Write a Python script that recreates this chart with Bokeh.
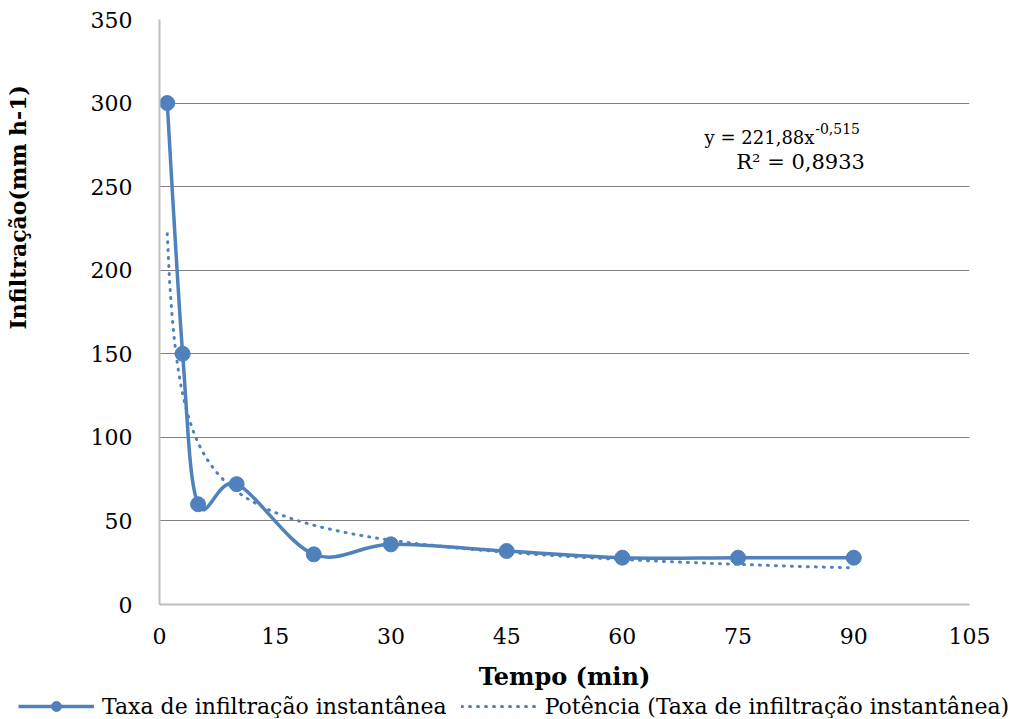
from bokeh.plotting import figure
from bokeh.layouts import column
from bokeh.models import Range1d, FixedTicker, Legend, LegendItem, Label, ColumnDataSource, Title
from bokeh.embed import file_html
from bokeh.resources import INLINE
import numpy as np

# ---- data ----
tempo = [1, 3, 5, 10, 20, 30, 45, 60, 75, 90]
taxa = [300, 150, 60, 72, 30, 36, 32, 28, 28, 28]
coef_a = 221.88
coef_b = -0.515
x_ticks = [0, 15, 30, 45, 60, 75, 90, 105]
y_ticks = [0, 50, 100, 150, 200, 250, 300, 350]
serie_nome = "Taxa de infiltração instantânea"
trend_nome = "Potência (Taxa de infiltração instantânea)"
eq_txt = "y = 221,88x"
eq_exp = "-0,515"
r2_txt = "R² = 0,8933"
y_title = "Infiltração(mm h-1)"
x_title = "Tempo (min)"

BLUE = "#4F81BD"
FONT = "DejaVu Serif"

p = figure(width=1011, height=693, output_backend="svg", toolbar_location=None,
           x_range=Range1d(0, 105), y_range=Range1d(0, 350),
           min_border_left=159, min_border_right=42, min_border_top=19, min_border_bottom=89)
p.outline_line_color = None
p.background_fill_color = "white"
p.border_fill_color = "white"

p.xgrid.visible = False
p.ygrid.grid_line_color = "#808080"
p.ygrid.grid_line_width = 1
p.ygrid.ticker = FixedTicker(ticks=y_ticks[1:])

for ax, ticks in ((p.xaxis[0], x_ticks), (p.yaxis[0], y_ticks)):
    ax.ticker = FixedTicker(ticks=ticks)
    ax.major_tick_line_color = None
    ax.minor_tick_line_color = None
    ax.axis_line_color = "#BFBFBF"
    ax.axis_line_width = 2
    ax.major_label_text_font = FONT
    ax.major_label_text_font_size = "22px"
    ax.major_label_text_color = "black"
    ax.axis_label_text_font = FONT
    ax.axis_label_text_font_style = "bold"
    ax.axis_label_text_color = "black"

p.xaxis.axis_label = x_title
p.xaxis.axis_label_text_font_size = "24px"
p.xaxis.major_label_standoff = 17
p.xaxis.axis_label_standoff = 15
p.yaxis.major_label_standoff = 21
# blank axis label used only as spacing so the title below sits at the far left
p.yaxis.axis_label = " "
p.yaxis.axis_label_standoff = 28
p.yaxis.axis_label_text_font_size = "22px"

# y-axis title (Title in the left panel, shifted upward like the original)
p.add_layout(Title(text=y_title, align="left", offset=275, standoff=0,
                   text_font=FONT, text_font_style="bold", text_font_size="22px",
                   text_color="black"), "left")

# ---- trend line (power fit shown on chart) ----
xt = np.linspace(tempo[0], tempo[-1], 300)
yt = coef_a * xt ** coef_b
p.line(xt, yt, line_color=BLUE, line_width=3, line_dash="1 7", line_cap="round")

# ---- smoothed series (Catmull-Rom bezier through data) ----
X = np.array(tempo, float)
Y = np.array(taxa, float)
n = len(X)
x0, y0, x1, y1, cx0, cy0, cx1, cy1 = [], [], [], [], [], [], [], []
for i in range(n - 1):
    im = max(i - 1, 0)
    ip2 = min(i + 2, n - 1)
    x0.append(X[i]); y0.append(Y[i]); x1.append(X[i + 1]); y1.append(Y[i + 1])
    cx0.append(X[i] + (X[i + 1] - X[im]) / 6); cy0.append(Y[i] + (Y[i + 1] - Y[im]) / 6)
    cx1.append(X[i + 1] - (X[ip2] - X[i]) / 6); cy1.append(Y[i + 1] - (Y[ip2] - Y[i]) / 6)
bsrc = ColumnDataSource(dict(x0=x0, y0=y0, x1=x1, y1=y1, cx0=cx0, cy0=cy0, cx1=cx1, cy1=cy1))
p.bezier(x0="x0", y0="y0", x1="x1", y1="y1", cx0="cx0", cy0="cy0", cx1="cx1", cy1="cy1",
         source=bsrc, line_color=BLUE, line_width=3.5)
p.scatter(tempo, taxa, size=15, fill_color=BLUE, line_color=BLUE)

# ---- equation labels ----
p.add_layout(Label(x=84.9, y=279.5, text=eq_txt, text_align="right", text_baseline="alphabetic",
                   text_font=FONT, text_font_size="18px", text_color="black"))
p.add_layout(Label(x=85.0, y=285, text=eq_exp, text_align="left", text_baseline="alphabetic",
                   text_font=FONT, text_font_size="14px", text_color="black"))
p.add_layout(Label(x=83.1, y=264.5, text=r2_txt, text_align="center", text_baseline="alphabetic",
                   text_font=FONT, text_font_size="21px", text_color="black"))

# ---- legend strip below the chart ----
lf = figure(width=1011, height=25, output_backend="svg", toolbar_location=None,
            x_range=Range1d(0, 1), y_range=Range1d(0, 1),
            x_axis_location=None, y_axis_location=None,
            min_border=0, min_border_left=0, min_border_right=0, min_border_top=0, min_border_bottom=0)
lf.frame_align = False
lf.outline_line_color = None
lf.xgrid.visible = False
lf.ygrid.visible = False
l_line = lf.line(x=[-5, -4], y=[-5, -5], line_color=BLUE, line_width=3.5)
l_pts = lf.scatter(x=[-5], y=[-5], size=15, fill_color=BLUE, line_color=BLUE)
l_trend = lf.line(x=[-5, -4], y=[-5, -5], line_color=BLUE, line_width=3, line_dash="1 7", line_cap="round")
legend = Legend(items=[LegendItem(label=serie_nome, renderers=[l_line, l_pts]),
                       LegendItem(label=trend_nome, renderers=[l_trend])],
                orientation="horizontal", location="center_left",
                label_text_font=FONT, label_text_font_size="22px", label_text_color="black",
                glyph_width=76, glyph_height=25, label_standoff=8, spacing=14,
                padding=0, margin=18, border_line_color=None, background_fill_alpha=0)
lf.add_layout(legend, "center")

open("out.html", "w").write(file_html(column(p, lf, spacing=0), INLINE))
